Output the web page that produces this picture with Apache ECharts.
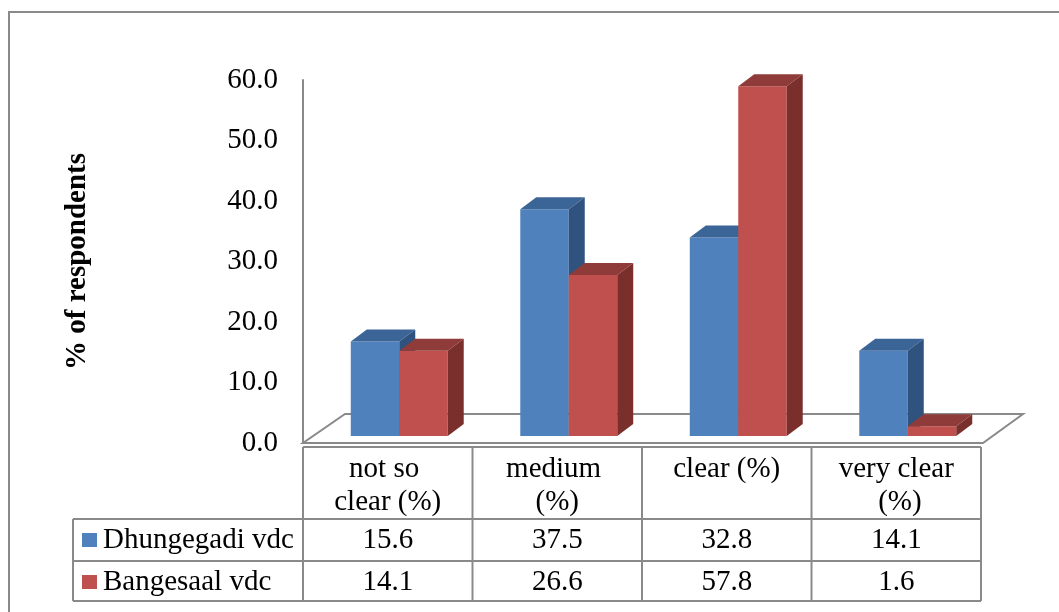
<!DOCTYPE html>
<html>
<head>
<meta charset="utf-8">
<script src="https://cdn.jsdelivr.net/npm/echarts@6.0.0/dist/echarts.min.js"></script>
<style>
  html, body { margin: 0; padding: 0; background: #fff; }
  #chart { width: 1059px; height: 612px; }
</style>
</head>
<body>
<div id="chart"></div>
<script>
var categories = ['not so clear (%)', 'medium (%)', 'clear (%)', 'very clear (%)'];
var seriesNames = ['Dhungegadi vdc', 'Bangesaal vdc'];
var dhungegadi = [15.6, 37.5, 32.8, 14.1];
var bangesaal = [14.1, 26.6, 57.8, 1.6];
var yTicks = [0, 10, 20, 30, 40, 50, 60];

var FONT = "'Liberation Serif', 'Times New Roman', serif";
var FS = 29;
var GRAY = '#8a8a8a';
var colors = [
  { front: '#4f81bd', top: '#3c6597', side: '#30527f' },
  { front: '#c0504d', top: '#8f3b39', side: '#7b2f2d' }
];

var chartDom = document.getElementById('chart');
var myChart = echarts.init(chartDom);

// 3d look: bars sit a little behind the axis plane
var shiftX = 11.5, shiftY = -7;
var depthX = 16, depthY = -12;

function bar3d(idx) {
  return function (params, api) {
    var cat = api.value(0);
    var val = api.value(1);
    var base = api.coord([cat, 0]);
    var top = api.coord([cat, val]);
    var band = api.size([1, 0])[0];
    var w = band * 0.286;
    var x0 = base[0] + shiftX + (idx === 0 ? -w : 0);
    var x1 = x0 + w;
    var yb = base[1] + shiftY;
    var yt = top[1] + shiftY;
    var c = colors[idx];
    return {
      type: 'group',
      children: [
        { type: 'rect', shape: { x: x0, y: yt, width: w, height: yb - yt }, style: { fill: c.front } },
        { type: 'polygon', shape: { points: [[x0, yt], [x1, yt], [x1 + depthX, yt + depthY], [x0 + depthX, yt + depthY]] }, style: { fill: c.top } },
        { type: 'polygon', shape: { points: [[x1, yt], [x1 + depthX, yt + depthY], [x1 + depthX, yb + depthY], [x1, yb]] }, style: { fill: c.side } }
      ]
    };
  };
}

var option = {
  animation: false,
  grid: { left: 303, right: 78, top: 80, bottom: 169 },
  xAxis: {
    type: 'category',
    data: categories,
    axisLine: { show: false },
    axisTick: { show: false },
    axisLabel: {
      interval: 0,
      margin: 10,
      color: '#000',
      fontFamily: FONT,
      fontSize: FS,
      lineHeight: 33,
      width: 122,
      overflow: 'break'
    }
  },
  yAxis: {
    type: 'value',
    min: yTicks[0],
    max: yTicks[yTicks.length - 1],
    interval: 10,
    name: '% of respondents',
    nameLocation: 'middle',
    nameRotate: 90,
    nameGap: 211,
    nameTextStyle: { fontFamily: FONT, fontSize: FS, fontWeight: 'bold', color: '#000' },
    axisLine: { show: true, lineStyle: { color: GRAY, width: 2 } },
    axisTick: { show: false },
    splitLine: { show: false },
    axisLabel: {
      margin: 25,
      color: '#000',
      fontFamily: FONT,
      fontSize: FS,
      formatter: function (v) { return v.toFixed(1); }
    }
  },
  series: [
    {
      name: seriesNames[0],
      type: 'custom',
      renderItem: bar3d(0),
      encode: { x: 0, y: 1 },
      data: dhungegadi.map(function (v, i) { return [i, v]; }),
      z: 3
    },
    {
      name: seriesNames[1],
      type: 'custom',
      renderItem: bar3d(1),
      encode: { x: 0, y: 1 },
      data: bangesaal.map(function (v, i) { return [i, v]; }),
      z: 4
    }
  ]
};

myChart.setOption(option);

// floor, data table and outer border
function buildTable() {
  var cx = categories.map(function (c, i) { return myChart.convertToPixel({ xAxisIndex: 0 }, i); });
  var band = cx[1] - cx[0];
  var left = cx[0] - band / 2;
  var right = cx[cx.length - 1] + band / 2;
  var y0 = myChart.convertToPixel({ yAxisIndex: 0 }, 0);

  var headTop = y0 + 4, row1 = 519, row2 = 561, bottom = 601, legLeft = 73;
  var els = [];
  function line(x1, y1, x2, y2) {
    els.push({ type: 'line', shape: { x1: x1, y1: y1, x2: x2, y2: y2 }, style: { stroke: GRAY, lineWidth: 2 }, z: 1 });
  }
  function text(str, x, y, align) {
    els.push({ type: 'text', x: x, y: y, style: { text: str, font: FS + 'px ' + FONT, fill: '#000', align: align || 'center', verticalAlign: 'middle' }, z: 5 });
  }

  // outer frame
  els.push({ type: 'rect', shape: { x: 9, y: 12, width: 1100, height: 700 }, style: { fill: 'none', stroke: GRAY, lineWidth: 2 }, z: 0 });

  // floor
  els.push({
    type: 'polygon',
    shape: { points: [[left, y0], [right + 2, y0], [right + 42, y0 - 29], [left + 42, y0 - 29]] },
    style: { fill: 'none', stroke: GRAY, lineWidth: 2 }, z: 1
  });

  // grid lines of the table
  line(left, headTop, right, headTop);
  line(legLeft, row1, right, row1);
  line(legLeft, row2, right, row2);
  line(legLeft, bottom, right, bottom);
  line(legLeft, row1, legLeft, bottom);
  for (var k = 0; k <= categories.length; k++) {
    var x = left + k * band;
    line(x, headTop, x, bottom);
  }

  var rows = [dhungegadi, bangesaal];
  var rowMid = [540, 582];
  rows.forEach(function (vals, r) {
    els.push({ type: 'rect', shape: { x: 82, y: rowMid[r] - 7, width: 15, height: 14 }, style: { fill: colors[r].front }, z: 5 });
    text(seriesNames[r], 103, rowMid[r], 'left');
    vals.forEach(function (v, i) { text(v.toFixed(1), cx[i], rowMid[r]); });
  });

  myChart.setOption({ graphic: { elements: els } });
}

buildTable();

window.addEventListener('resize', function () {
  myChart.resize();
  buildTable();
});
</script>
</body>
</html>
